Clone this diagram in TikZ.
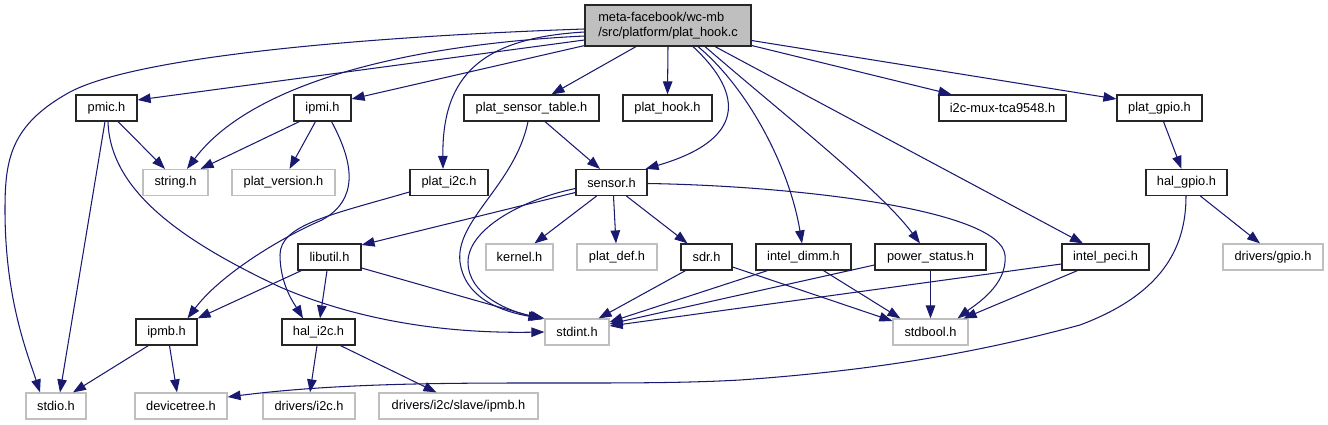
\documentclass[tikz,border=0pt]{standalone}
\usepackage{fontspec}
\setmainfont{Liberation Sans}
\usetikzlibrary{arrows.meta,calc}
\definecolor{edgeblue}{HTML}{191970}
\definecolor{lightborder}{HTML}{BFBFBF}
\definecolor{rootfill}{HTML}{BFBFBF}
\begin{document}
\begin{tikzpicture}[x=1pt,y=-1pt,
  every node/.style={font=\fontsize{12.8}{15}\selectfont, inner sep=0pt},
  hbox/.style={draw=black!85, line width=1.2pt, minimum height=26pt, fill=white},
  gbox/.style={draw=lightborder, line width=1.2pt, minimum height=26pt, fill=white},
  rootbox/.style={draw=black!85, line width=1.2pt, fill=rootfill, minimum width=166pt, minimum height=41pt, align=left},
  edge/.style={draw=edgeblue, line width=1.05pt, -{Triangle[length=13pt,width=9.5pt]}}]
\useasboundingbox (0,0) rectangle (1328,425);

% nodes
\node[rootbox] (root) at (668,25.5) {meta-facebook/wc-mb\\/src/platform/plat\_hook.c};

\node[hbox, minimum width=61pt]  (pmic)  at (106.5,108) {pmic.h};
\node[hbox, minimum width=57pt]  (ipmi)  at (322.5,108) {ipmi.h};
\node[hbox, minimum width=135pt] (pst)   at (531.5,108) {plat\_sensor\_table.h};
\node[hbox, minimum width=89pt]  (phook) at (667.5,108) {plat\_hook.h};
\node[hbox, minimum width=127pt] (mux)   at (1002.5,108) {i2c-mux-tca9548.h};
\node[hbox, minimum width=85pt]  (pgpio) at (1159.5,108) {plat\_gpio.h};

\node[gbox, minimum width=65pt]  (string) at (175.5,182.5) {string.h};
\node[gbox, minimum width=103pt] (pver)   at (283.5,182.5) {plat\_version.h};
\node[hbox, minimum width=78pt]  (pi2c)   at (449,182.5) {plat\_i2c.h};
\node[hbox, minimum width=71pt]  (sensor) at (611.5,182.5) {sensor.h};
\node[hbox, minimum width=81pt]  (hgpio)  at (1186.5,182.5) {hal\_gpio.h};

\node[hbox, minimum width=63pt]  (libutil) at (329.5,257) {libutil.h};
\node[gbox, minimum width=67pt]  (kernel)  at (519.5,257) {kernel.h};
\node[gbox, minimum width=80pt]  (pdef)    at (617,257) {plat\_def.h};
\node[hbox, minimum width=51pt]  (sdr)     at (706.5,257) {sdr.h};
\node[hbox, minimum width=95pt]  (dimm)    at (803.5,257) {intel\_dimm.h};
\node[hbox, minimum width=111pt] (pstat)   at (930.5,257) {power\_status.h};
\node[hbox, minimum width=87pt]  (peci)    at (1105.5,257) {intel\_peci.h};
\node[gbox, minimum width=100pt] (dgpio)   at (1273,257) {drivers/gpio.h};

\node[hbox, minimum width=61pt]  (ipmb)    at (166.5,332) {ipmb.h};
\node[hbox, minimum width=73pt]  (hi2c)    at (318.5,332) {hal\_i2c.h};
\node[gbox, minimum width=64pt]  (stdint)  at (577,332) {stdint.h};
\node[gbox, minimum width=75pt]  (stdbool) at (930.5,332) {stdbool.h};

\node[gbox, minimum width=60pt]  (stdio)  at (56,406) {stdio.h};
\node[gbox, minimum width=92pt]  (dtree)  at (181,406) {devicetree.h};
\node[gbox, minimum width=92pt]  (di2c)   at (309,406) {drivers/i2c.h};
\node[gbox, minimum width=159pt] (dslave) at (458.5,406) {drivers/i2c/slave/ipmb.h};

% edges from root
\draw[edge] ($(root.west)+(0,3.5)$) .. controls (380,36) and (140,55) .. (70,92)
   .. controls (10,125) and (5,160) .. (5,210) .. controls (5,300) and (28,355) .. ($(stdio.north)+(-16,0)$);
\draw[edge] ($(root.west)+(0,10.5)$) .. controls (400,45) and (250,85) .. ($(string.north)+(11.5,0)$);
\draw[edge] ($(root.west)+(0,14.5)$) -- ($(pmic.east)+(0,-8)$);
\draw[edge] ($(root.south west)+(0,-1)$) -- ($(ipmi.east)+(0,-9)$);
\draw[edge] ($(root.west)+(0,6.5)$) .. controls (482,38) and (442,75) .. ($(pi2c.north)+(-6,0)$);
\draw[edge] ($(root.south)+(-32,0)$) -- ($(pst.north)+(20,0)$);
\draw[edge] (root.south) -- (phook.north);
\draw[edge] ($(root.south)+(25,0)$) .. controls (745,95) and (745,140) .. ($(sensor.north east)+(-2,0)$);
\draw[edge] ($(root.south)+(30,0)$) .. controls (750,90) and (790,170) .. ($(dimm.north)+(-1.5,0)$);
\draw[edge] ($(root.south)+(37,0)$) .. controls (790,120) and (880,190) .. ($(pstat.north)+(-10.5,0)$);
\draw[edge] ($(root.south)+(47,0)$) -- ($(peci.north)+(-22.5,0)$);
\draw[edge] ($(root.east)+(0,20)$) -- ($(mux.north)+(-51,0)$);
\draw[edge] ($(root.east)+(0,15)$) -- ($(pgpio.west)+(0,-9)$);

% pmic
\draw[edge] ($(pmic.south)+(11.5,0)$) -- ($(string.north)+(-10.5,0)$);
\draw[edge] ($(pmic.south)+(-1.5,0)$) -- ($(stdio.north)+(4,0)$);
\draw[edge] ($(pmic.south)+(1.5,0)$) .. controls (110,190) and (180,240) .. (280,287)
   .. controls (380,330) and (480,333) .. (stdint.west);

% ipmi
\draw[edge] ($(ipmi.south west)+(6,0)$) -- ($(string.north east)+(-8,0)$);
\draw[edge] ($(ipmi.south)+(-7,0)$) -- ($(pver.north)+(6,0)$);
\draw[edge] ($(ipmi.south)+(9,0)$) .. controls (355,165) and (358,200) .. (322,220)
   .. controls (280,238) and (220,275) .. ($(ipmb.north)+(21,0)$);

% plat_i2c
\draw[edge] ($(pi2c.west)+(0,9.5)$) .. controls (330,215) and (280,225) .. (280,255)
   .. controls (280,285) and (295,305) .. ($(hi2c.north)+(-15.5,0)$);

% plat_sensor_table
\draw[edge] ($(pst.south)+(13.5,0)$) -- ($(sensor.north)+(-11.5,0)$);
\draw[edge] ($(pst.south)+(-3.5,0)$) .. controls (515,185) and (455,220) .. (460,262)
   .. controls (465,300) and (505,312) .. ($(stdint.north west)+(-3,0)$);

% sensor
\draw[edge] ($(sensor.west)+(0,6)$) .. controls (520,200) and (468,230) .. (468,262)
   .. controls (468,295) and (510,312) .. ($(stdint.north west)+(0,0)$);
\draw[edge] ($(sensor.west)+(0,10)$) -- ($(libutil.east)+(0,-12)$);
\draw[edge] ($(sensor.south)+(-15,0)$) -- ($(kernel.north)+(15,0)$);
\draw[edge] ($(sensor.south)+(2,0)$) -- ($(pdef.north)+(-1,0)$);
\draw[edge] ($(sensor.south)+(15,0)$) -- ($(sdr.north)+(-19,0)$);
\draw[edge] ($(sensor.east)+(0,1)$) .. controls (800,186) and (1000,210) .. (1005,255)
   .. controls (1008,285) and (975,305) .. ($(stdbool.north east)+(-11,0)$);

% libutil
\draw[edge] ($(libutil.south west)+(4,0)$) -- (ipmb.north east);
\draw[edge] ($(libutil.south)+(-2.5,0)$) -- ($(hi2c.north)+(1.5,0)$);
\draw[edge] ($(libutil.east)+(0,11)$) -- ($(stdint.north west)+(-2,1)$);

% hal_i2c
\draw[edge] ($(hi2c.south)+(-1.5,0)$) -- ($(di2c.north)+(1,0)$);
\draw[edge] ($(hi2c.south)+(22,0)$) -- ($(dslave.north)+(-22,0)$);

% ipmb
\draw[edge] ($(ipmb.south west)+(13,0)$) -- ($(stdio.north)+(17,0)$);
\draw[edge] ($(ipmb.south)+(3,0)$) -- ($(dtree.north)+(-4,0)$);

% gpio
\draw[edge] ($(pgpio.south)+(4,0)$) -- ($(hgpio.north)+(-5,0)$);
\draw[edge] ($(hgpio.south)+(14,0)$) -- ($(dgpio.north)+(-13,0)$);
\draw[edge] ($(hgpio.south)+(-0.5,0)$) .. controls (1186,250) and (1160,295) .. (1080,325)
   .. controls (980,352) and (880,370) .. (740,380)
   .. controls (600,388) and (400,375) .. ($(dtree.east)+(0,-9)$);

% sdr
\draw[edge] ($(sdr.south)+(-21,0)$) -- ($(stdint.north east)+(-11,0)$);
\draw[edge] ($(sdr.east)+(0,10)$) -- ($(stdbool.west)+(0,-11)$);

% intel_dimm
\draw[edge] ($(dimm.south)+(-36,0)$) -- ($(stdint.east)+(0,-10)$);
\draw[edge] ($(dimm.south)+(20,0)$) -- ($(stdbool.north west)+(8,0)$);

% power_status
\draw[edge] ($(pstat.west)+(0,8)$) -- ($(stdint.east)+(0,-8)$);
\draw[edge] (pstat.south) -- (stdbool.north);

% intel_peci
\draw[edge] ($(peci.west)+(0,7)$) -- ($(stdint.east)+(0,-6)$);
\draw[edge] ($(peci.south)+(-28,0)$) -- ($(stdbool.north east)+(-5,0)$);
\end{tikzpicture}
\end{document}
